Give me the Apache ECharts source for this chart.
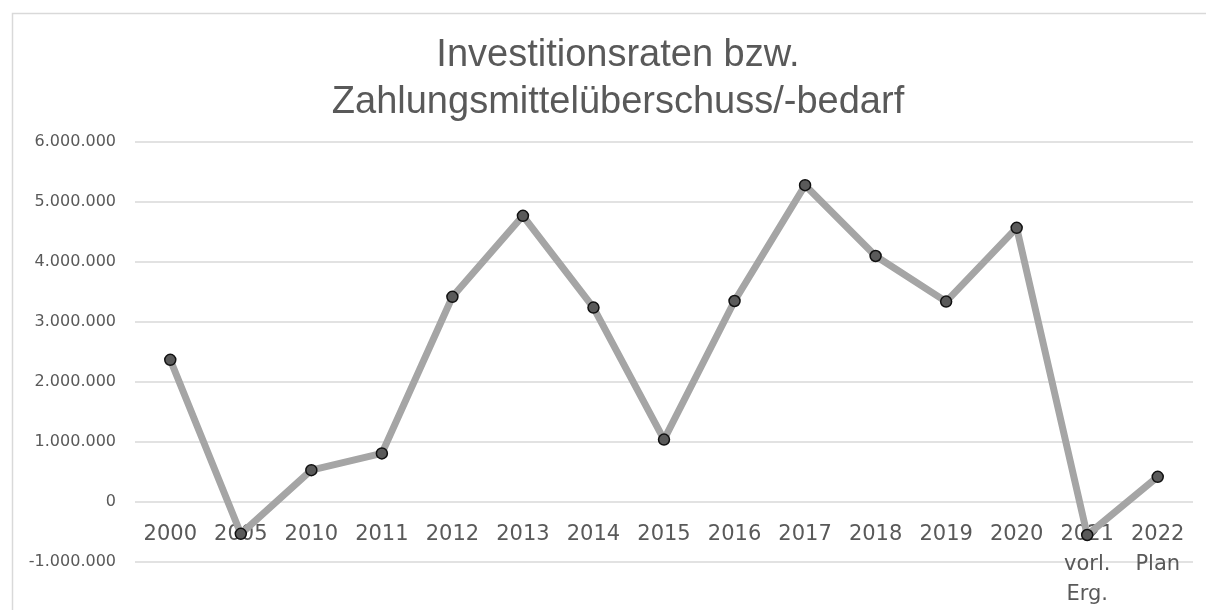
<!DOCTYPE html>
<html>
<head>
    <meta charset="utf-8">
    <title>Investitionsraten</title>
    <script src="https://cdn.jsdelivr.net/npm/echarts@6/dist/echarts.min.js"></script>
    <style>
        html, body { margin: 0; padding: 0; background: #fff; }
    </style>
</head>
<body>
    <div id="main" style="width:1206px;height:610px;"></div>
<script>
var categories = ['2000', '2005', '2010', '2011', '2012', '2013', '2014', '2015', '2016', '2017', '2018', '2019', '2020', '2021\nvorl.\nErg.', '2022\nPlan'];
var values = [2370000, -530000, 530000, 810000, 3420000, 4770000, 3240000, 1040000, 3350000, 5280000, 4100000, 3340000, 4570000, -550000, 420000];
var titleLines = ['Investitionsraten bzw.', 'Zahlungsmittelüberschuss/-bedarf'];

// Tausenderpunkte wie in der Vorlage
function fmt(v) {
    var s = String(Math.abs(v)).replace(/\B(?=(\d{3})+(?!\d))/g, '.');
    return (v < 0 ? '-' : '') + s;
}

var myChart = echarts.init(document.getElementById('main'));

var option = {
    backgroundColor: '#fff',
    animation: false,
    title: {
        text: titleLines.join('\n'),
        left: 613,
        textAlign: 'center',
        top: 27,
        textStyle: {
            color: '#595959',
            fontFamily: '"Liberation Sans Narrow", "Liberation Sans", sans-serif',
            fontWeight: 'normal',
            fontSize: 38,
            lineHeight: 47
        }
    },
    graphic: [{
        type: 'rect',
        shape: { x: 12.5, y: 13.5, width: 1300, height: 700 },
        style: { fill: 'none', stroke: '#d9d9d9', lineWidth: 1.5 },
        silent: true
    }],
    grid: {
        left: 135,
        right: 13,
        top: 142,
        bottom: 48,
        outerBoundsMode: 'none',
        containLabel: false
    },
    xAxis: {
        type: 'category',
        data: categories,
        boundaryGap: true,
        axisLine: { show: false, onZero: false },
        axisTick: { show: false },
        axisLabel: {
            // Beschriftung sitzt direkt unter der Nulllinie
            margin: -42,
            color: '#595959',
            fontFamily: '"DejaVu Sans", sans-serif',
            fontSize: 21,
            lineHeight: 30,
            verticalAlign: 'top',
            interval: 0
        }
    },
    yAxis: {
        type: 'value',
        min: -1000000,
        max: 6000000,
        interval: 1000000,
        axisLine: { show: false },
        axisTick: { show: false },
        splitLine: { lineStyle: { color: '#d9d9d9', width: 1.5 } },
        axisLabel: {
            margin: 19,
            color: '#595959',
            fontFamily: '"DejaVu Sans", sans-serif',
            fontSize: 16,
            formatter: fmt
        }
    },
    series: [{
        type: 'line',
        data: values,
        symbol: 'circle',
        symbolSize: 11,
        lineStyle: { color: '#a5a5a5', width: 7 },
        itemStyle: { color: '#5a5a5a', borderColor: '#111', borderWidth: 1.5 },
        z: 3
    }]
};

myChart.setOption(option);
</script>
</body>
</html>
